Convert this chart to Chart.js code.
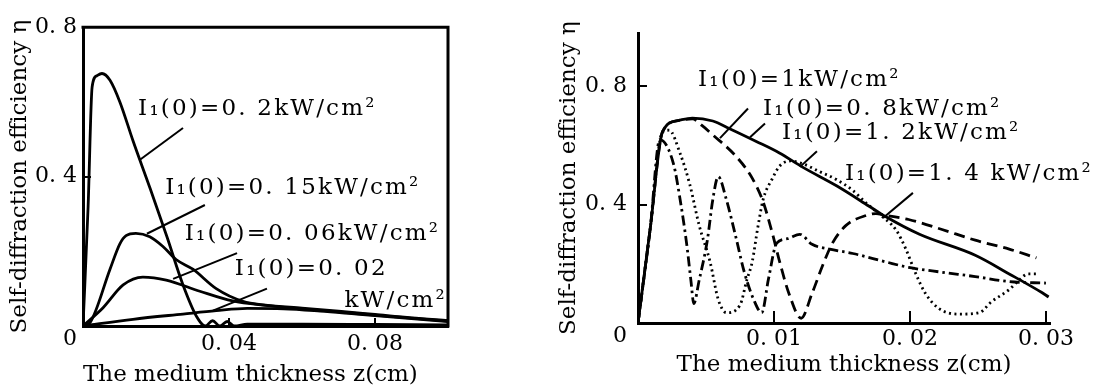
<!DOCTYPE html>
<html><head><meta charset="utf-8">
<script src="https://cdn.jsdelivr.net/npm/chart.js@4/dist/chart.umd.min.js"></script>
<style>
html,body{margin:0;padding:0;background:#fff;width:1097px;height:389px;overflow:hidden}
canvas{position:absolute;top:0}
#c1{left:0}
#c2{left:540px}
</style></head><body>
<canvas id="c1" width="470" height="389"></canvas>
<canvas id="c2" width="557" height="389"></canvas>
<script>
// ---------- LEFT PANEL DATA ----------
const leftXTicks = [0, 0.04, 0.08];
const leftXTickLabels = ['', '0. 04', '0. 08'];
const leftYTicks = [0, 0.4, 0.8];
const leftYTickLabels = ['0', '0. 4', '0. 8'];

const zL_02 = [0, 0.0014, 0.0025, 0.0038, 0.0052, 0.0074, 0.0101, 0.0137, 0.0184, 0.023, 0.0274, 0.0312, 0.0335, 0.0355, 0.0375, 0.0395, 0.0415, 0.045, 0.06, 0.08, 0.1];
const etaL_02 = [0, 0.32, 0.64, 0.67, 0.676, 0.658, 0.60, 0.496, 0.368, 0.239, 0.11, 0.024, 0, 0.014, 0, 0.012, 0, 0.005, 0.005, 0.004, 0.003];
const zL_015 = [0, 0.002, 0.0074, 0.0101, 0.0118, 0.0145, 0.0183, 0.0219, 0.0255, 0.0301, 0.0365, 0.0438, 0.05, 0.06, 0.07, 0.08, 0.09, 0.1];
const etaL_015 = [0, 0.01, 0.152, 0.22, 0.242, 0.248, 0.239, 0.213, 0.178, 0.152, 0.1, 0.066, 0.056, 0.048, 0.04, 0.031, 0.022, 0.015];
const zL_006 = [0, 0.0055, 0.011, 0.0164, 0.0228, 0.032, 0.041, 0.05, 0.06, 0.07, 0.08, 0.09, 0.1];
const etaL_006 = [0, 0.049, 0.11, 0.131, 0.123, 0.093, 0.067, 0.055, 0.046, 0.038, 0.029, 0.021, 0.013];
const zL_002 = [0, 0.0137, 0.0274, 0.0365, 0.045, 0.055, 0.065, 0.075, 0.085, 0.1];
const etaL_002 = [0, 0.018, 0.032, 0.041, 0.047, 0.046, 0.04, 0.032, 0.024, 0.012];

const leftLabelTexts = ['I\u2081(0)=0. 2kW/cm\u00b2', 'I\u2081(0)=0. 15kW/cm\u00b2', 'I\u2081(0)=0. 06kW/cm\u00b2', 'I\u2081(0)=0. 02', 'kW/cm\u00b2'];

// ---------- RIGHT PANEL DATA ----------
const rightXTicks = [0, 0.01, 0.02, 0.03];
const rightXTickLabels = ['', '0. 01', '0. 02', '0. 03'];
const rightYTicks = [0, 0.4, 0.8];
const rightYTickLabels = ['0', '0. 4', '0. 8'];

const zR_08 = [0, 0.0009, 0.0018, 0.003, 0.004, 0.0055, 0.0067, 0.0087, 0.0104, 0.0121, 0.0146, 0.017, 0.0182, 0.0207, 0.0248, 0.0273, 0.0297, 0.0302];
const etaR_08 = [0, 0.32, 0.646, 0.685, 0.693, 0.683, 0.658, 0.614, 0.575, 0.527, 0.464, 0.395, 0.36, 0.30, 0.229, 0.166, 0.103, 0.088];
const zR_1 = [0, 0.0009, 0.0018, 0.003, 0.004, 0.0047, 0.0055, 0.0072, 0.0084, 0.0092, 0.0099, 0.0104, 0.0111, 0.012, 0.0128, 0.0136, 0.0143, 0.0153, 0.0168, 0.0175, 0.0182, 0.0199, 0.0223, 0.0248, 0.0273, 0.0293];
const etaR_1 = [0, 0.32, 0.646, 0.685, 0.69, 0.668, 0.636, 0.564, 0.49, 0.41, 0.30, 0.21, 0.10, 0.016, 0.10, 0.197, 0.27, 0.33, 0.364, 0.37, 0.364, 0.35, 0.317, 0.28, 0.25, 0.22];
const zR_12 = [0, 0.0009, 0.0018, 0.0023, 0.0031, 0.0038, 0.0045, 0.0053, 0.0059, 0.0065, 0.0075, 0.008, 0.0084, 0.0088, 0.0092, 0.0099, 0.0104, 0.0112, 0.0122, 0.0133, 0.0146, 0.0158, 0.0168, 0.0177, 0.019, 0.0197, 0.0204, 0.0211, 0.0221, 0.0236, 0.0251, 0.026, 0.0273, 0.028, 0.0287, 0.0295];
const etaR_12 = [0, 0.32, 0.646, 0.652, 0.573, 0.47, 0.33, 0.207, 0.08, 0.035, 0.06, 0.145, 0.207, 0.32, 0.417, 0.49, 0.53, 0.548, 0.537, 0.513, 0.485, 0.448, 0.405, 0.37, 0.313, 0.25, 0.17, 0.103, 0.05, 0.03, 0.035, 0.072, 0.113, 0.144, 0.166, 0.166];
const zR_14 = [0, 0.0009, 0.0016, 0.0026, 0.0031, 0.0036, 0.0039, 0.0041, 0.0045, 0.0051, 0.0055, 0.0059, 0.0065, 0.0072, 0.0078, 0.0085, 0.0091, 0.0096, 0.0102, 0.011, 0.0119, 0.0128, 0.0141, 0.0158, 0.0182, 0.0199, 0.0223, 0.0248, 0.0273, 0.03];
const etaR_14 = [0, 0.32, 0.62, 0.54, 0.417, 0.26, 0.14, 0.066, 0.145, 0.28, 0.417, 0.495, 0.417, 0.29, 0.175, 0.08, 0.035, 0.15, 0.27, 0.285, 0.30, 0.266, 0.25, 0.235, 0.207, 0.188, 0.172, 0.157, 0.14, 0.135];

const rightLabelTexts = ['I\u2081(0)=1kW/cm\u00b2', 'I\u2081(0)=0. 8kW/cm\u00b2', 'I\u2081(0)=1. 2kW/cm\u00b2', 'I\u2081(0)=1. 4 kW/cm\u00b2'];

const yTitle = 'Self-diffraction efficiency \u03b7';
const xTitle = 'The medium thickness z(cm)';

// ---------- STYLE / LAYOUT ----------
const FONT = '"DejaVu Serif", "Liberation Serif", serif';

const leftCfg = {
  xMax: 0.1, yMax: 0.8,
  xTicks: leftXTicks, xLabels: leftXTickLabels, yTicks: leftYTicks, yLabels: leftYTickLabels,
  padding: {left: 0, top: 15, right: 22, bottom: 0},
  yW: 83, xH: 63, yTickPad: 14, xTickPad: 13, xTickLen: 8, yTickLen: 8,
  yTitlePad: 6, xTitlePad: 0, xTitleAlign: 'start', box: true,
  series: [
    {label: '0.2 kW/cm\u00b2', z: zL_02, eta: etaL_02, dash: []},
    {label: '0.15 kW/cm\u00b2', z: zL_015, eta: etaL_015, dash: []},
    {label: '0.06 kW/cm\u00b2', z: zL_006, eta: etaL_006, dash: []},
    {label: '0.02 kW/cm\u00b2', z: zL_002, eta: etaL_002, dash: []}
  ],
  labels: [
    {t: 0, x: 0.0151, y: 0.581},
    {t: 1, x: 0.0225, y: 0.370},
    {t: 2, x: 0.0279, y: 0.247},
    {t: 3, x: 0.0416, y: 0.152},
    {t: 4, x: 0.0997, y: 0.067, align: 'right'}
  ],
  texts: leftLabelTexts,
  leaders: [
    [0.0156, 0.445, 0.0274, 0.53],
    [0.0175, 0.247, 0.0334, 0.324],
    [0.0247, 0.126, 0.0422, 0.195],
    [0.0356, 0.041, 0.0504, 0.10]
  ]
};

const rightCfg = {
  xMax: 0.0303, yMax: 0.98,
  xTicks: rightXTicks, xLabels: rightXTickLabels, yTicks: rightYTicks, yLabels: rightYTickLabels,
  padding: {left: 0, top: 11, right: 47, bottom: 0},
  yW: 98, xH: 66, yTickPad: 20, xTickPad: 15, xTickLen: 12, yTickLen: 9,
  yTitlePad: 15, xTitlePad: 10, xTitleAlign: 'center', box: false,
  series: [
    {label: '1 kW/cm\u00b2', z: zR_1, eta: etaR_1, dash: [11, 6]},
    {label: '0.8 kW/cm\u00b2', z: zR_08, eta: etaR_08, dash: []},
    {label: '1.2 kW/cm\u00b2', z: zR_12, eta: etaR_12, dash: [2, 3.5]},
    {label: '1.4 kW/cm\u00b2', z: zR_14, eta: etaR_14, dash: [10, 4, 2.5, 4]}
  ],
  labels: [
    {t: 0, x: 0.00441, y: 0.820},
    {t: 1, x: 0.00919, y: 0.722},
    {t: 2, x: 0.01059, y: 0.644},
    {t: 3, x: 0.01522, y: 0.5025}
  ],
  texts: rightLabelTexts,
  leaders: [
    [0.00809, 0.7255, 0.00603, 0.625],
    [0.00934, 0.675, 0.00824, 0.628],
    [0.01316, 0.581, 0.01191, 0.528],
    [0.02022, 0.44, 0.01802, 0.355]
  ]
};

function annotPlugin(cfg) {
  return {
    id: 'annot',
    afterDraw(chart) {
      const ctx = chart.ctx, a = chart.chartArea, sx = chart.scales.x, sy = chart.scales.y;
      ctx.save();
      ctx.strokeStyle = '#000';
      ctx.lineCap = 'butt';
      if (cfg.box) {
        ctx.lineWidth = 3;
        ctx.beginPath();
        ctx.moveTo(a.left - 1.5, a.top);
        ctx.lineTo(a.right, a.top);
        ctx.lineTo(a.right, a.bottom + 1.5);
        ctx.stroke();
      }
      ctx.lineWidth = 2;
      cfg.leaders.forEach(l => {
        ctx.beginPath();
        ctx.moveTo(sx.getPixelForValue(l[0]), sy.getPixelForValue(l[1]));
        ctx.lineTo(sx.getPixelForValue(l[2]), sy.getPixelForValue(l[3]));
        ctx.stroke();
      });
      ctx.fillStyle = '#000';
      ctx.font = '23px ' + FONT;
      ctx.letterSpacing = '2.2px';
      ctx.textBaseline = 'middle';
      cfg.labels.forEach(l => {
        ctx.textAlign = l.align || 'left';
        ctx.fillText(cfg.texts[l.t], sx.getPixelForValue(l.x), sy.getPixelForValue(l.y));
      });
      ctx.restore();
    }
  };
}

function makeChart(id, cfg) {
  return new Chart(document.getElementById(id), {
    type: 'line',
    data: {
      datasets: cfg.series.map(s => ({
        label: s.label,
        data: s.z.map((z, i) => ({x: z, y: s.eta[i]})),
        borderColor: '#000',
        borderWidth: 2.8,
        borderDash: s.dash,
        pointRadius: 0,
        fill: false,
        cubicInterpolationMode: 'monotone',
        borderJoinStyle: 'round'
      }))
    },
    options: {
      responsive: false, animation: false, devicePixelRatio: 1,
      layout: {padding: cfg.padding, autoPadding: false},
      plugins: {legend: {display: false}, tooltip: {enabled: false}},
      scales: {
        x: {
          type: 'linear', min: 0, max: cfg.xMax,
          afterFit: s => { s.height = cfg.xH; },
          afterBuildTicks: s => { s.ticks = cfg.xTicks.map(v => ({value: v})); },
          ticks: {autoSkip: false, maxRotation: 0, padding: cfg.xTickPad, color: '#000',
                  font: {family: FONT, size: 22}, callback: (v, i) => cfg.xLabels[i]},
          grid: {display: true, drawOnChartArea: false, drawTicks: true, tickLength: -cfg.xTickLen, color: '#000', lineWidth: 2},
          border: {display: true, color: '#000', width: 3},
          title: {display: true, text: xTitle, color: '#000', align: cfg.xTitleAlign, font: {family: FONT, size: 23},
                  padding: {top: 0, bottom: cfg.xTitlePad}}
        },
        y: {
          type: 'linear', min: 0, max: cfg.yMax,
          afterFit: s => { s.width = cfg.yW; },
          afterBuildTicks: s => { s.ticks = cfg.yTicks.map(v => ({value: v})); },
          ticks: {autoSkip: false, padding: cfg.yTickPad, color: '#000',
                  font: {family: FONT, size: 22},
                  callback: (v, i) => (cfg.yTicks[i] === 0 ? ['', cfg.yLabels[i]] : cfg.yLabels[i])},
          grid: {display: true, drawOnChartArea: false, drawTicks: true, tickLength: -cfg.yTickLen, color: '#000', lineWidth: 2},
          border: {display: true, color: '#000', width: 3},
          title: {display: true, text: yTitle, color: '#000', font: {family: FONT, size: 23},
                  padding: {top: cfg.yTitlePad, bottom: 0}}
        }
      }
    },
    plugins: [annotPlugin(cfg)]
  });
}

makeChart('c1', leftCfg);
makeChart('c2', rightCfg);
</script>
</body></html>
